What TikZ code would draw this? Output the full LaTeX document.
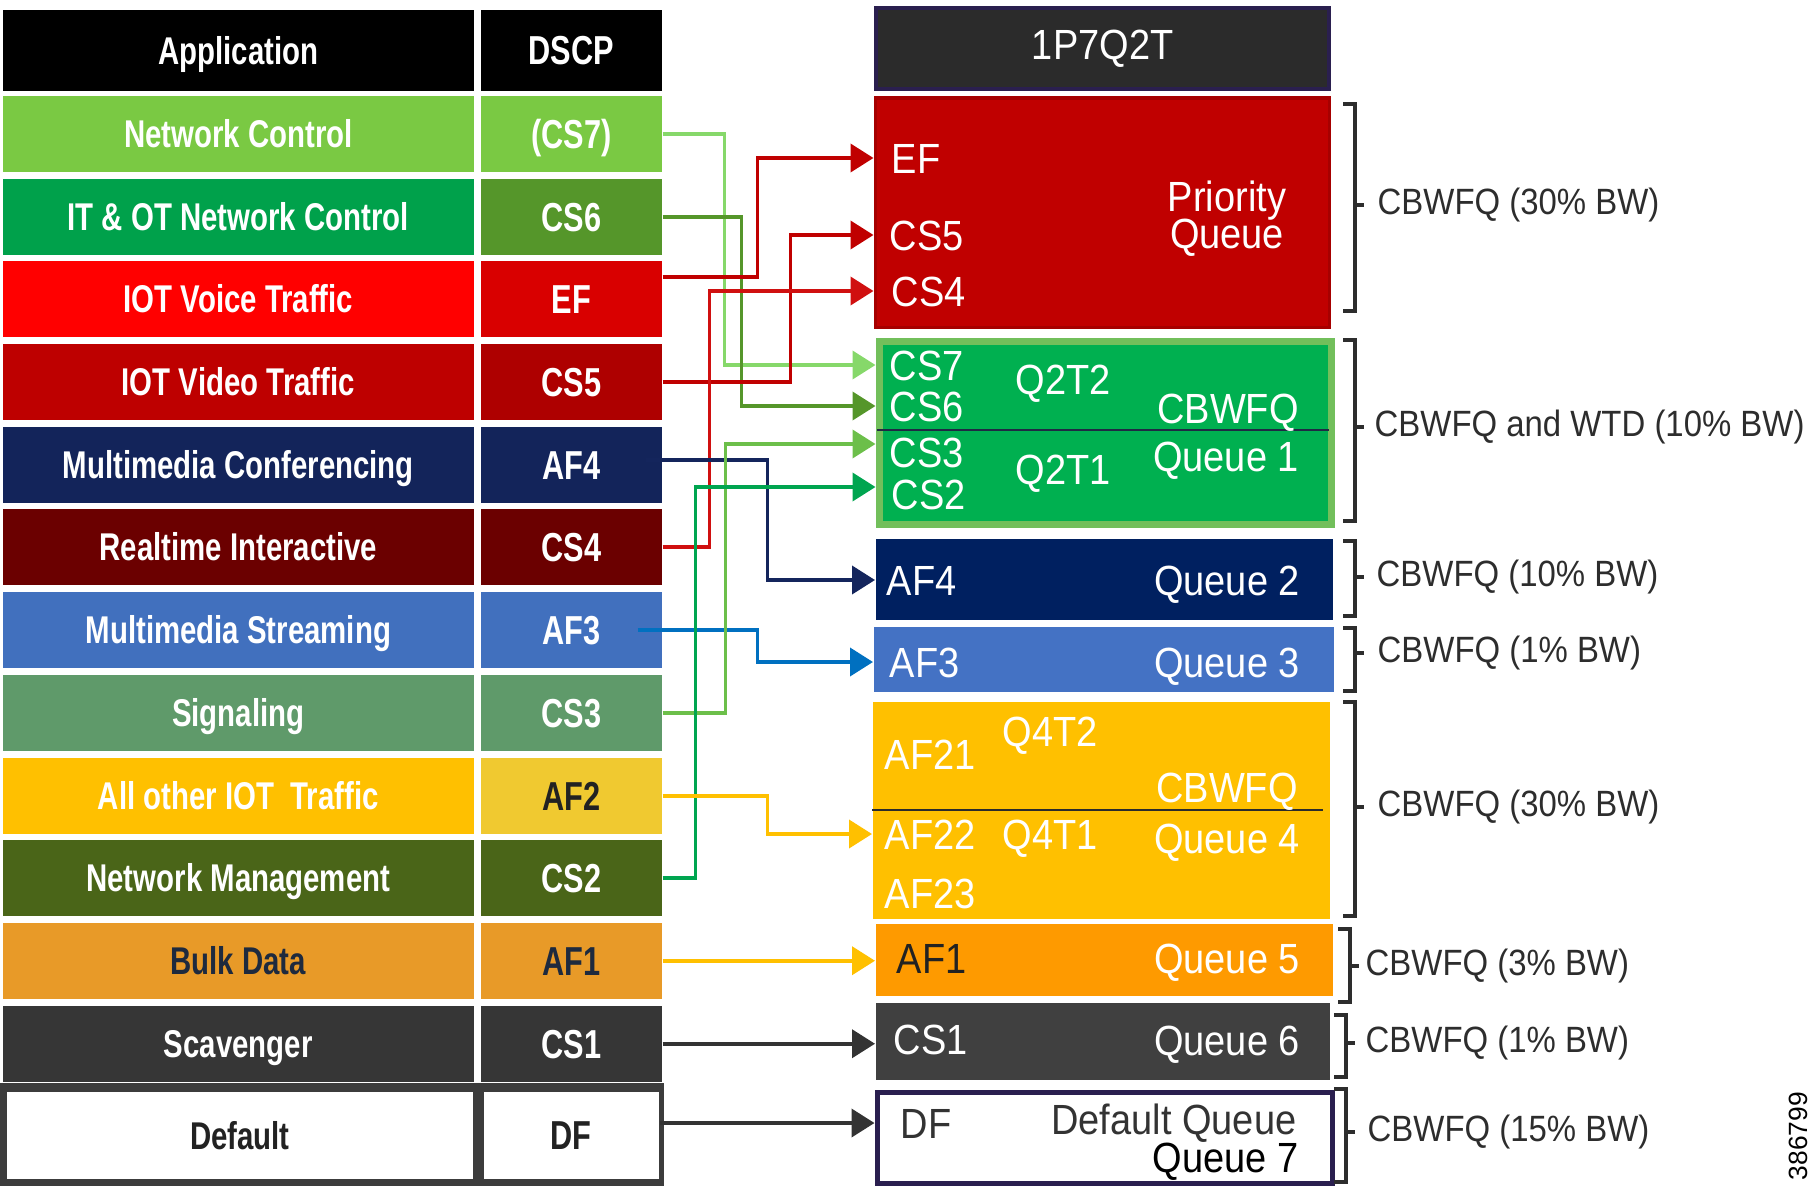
\documentclass[tikz,border=0pt]{standalone}
\usepackage{fontspec}
\setmainfont{Liberation Sans}
\newfontfamily\condfont{Liberation Sans}[FakeStretch=0.76]
\newfontfamily\qfont{Liberation Sans}[FakeStretch=0.9]
\usetikzlibrary{arrows.meta,calc}

\definecolor{ncgreen}{HTML}{7AC943}
\definecolor{itgreen}{HTML}{00A14B}
\definecolor{itolive}{HTML}{55962A}
\definecolor{voicered}{HTML}{FF0000}
\definecolor{efred}{HTML}{D90000}
\definecolor{videored}{HTML}{BE0000}
\definecolor{cs5red}{HTML}{AE0000}
\definecolor{confnavy}{HTML}{13245A}
\definecolor{rtmaroon}{HTML}{6B0000}
\definecolor{streamblue}{HTML}{4170BE}
\definecolor{siggreen}{HTML}{5F9A6A}
\definecolor{otheryellow}{HTML}{FFC000}
\definecolor{af2yellow}{HTML}{F0C930}
\definecolor{mgmtgreen}{HTML}{4A6518}
\definecolor{bulkorange}{HTML}{E89A28}
\definecolor{scavgray}{HTML}{363636}
\definecolor{framegray}{HTML}{3C3C3C}
\definecolor{darktext}{HTML}{222222}
\definecolor{bulktext}{HTML}{1E2A3E}
\definecolor{hdrgray}{HTML}{2B2B2B}
\definecolor{framenavy}{HTML}{2A1F4F}
\definecolor{pqred}{HTML}{C00000}
\definecolor{pqborder}{HTML}{A60000}
\definecolor{q1green}{HTML}{00B050}
\definecolor{q1border}{HTML}{72BF5B}
\definecolor{q2navy}{HTML}{002060}
\definecolor{q3blue}{HTML}{4472C4}
\definecolor{q4yellow}{HTML}{FFC000}
\definecolor{q5orange}{HTML}{FE9A00}
\definecolor{q6gray}{HTML}{404040}
\definecolor{divnavy}{HTML}{1F2A44}
\definecolor{bwgray}{HTML}{2D2D2D}
\definecolor{cs7line}{HTML}{86D86A}
\definecolor{cs6line}{HTML}{55962A}
\definecolor{efline}{HTML}{C00000}
\definecolor{cs4line}{HTML}{D01010}
\definecolor{af4line}{HTML}{14255C}
\definecolor{af3line}{HTML}{0070C0}
\definecolor{cs3line}{HTML}{6CBF4A}
\definecolor{cs2line}{HTML}{00A550}
\definecolor{af2line}{HTML}{FFC000}
\definecolor{darkline}{HTML}{333333}

\begin{document}
\begin{tikzpicture}[x=0.01cm,y=-0.01cm,
    appcell/.style={anchor=north west, inner sep=0pt, minimum width=4.71cm, minimum height=0.76cm, text=white, font=\condfont\bfseries\fontsize{11}{12}\selectfont, text height=7.9pt, text depth=0pt},
    dscpcell/.style={appcell, minimum width=1.81cm, font=\condfont\bfseries\fontsize{11.5}{12}\selectfont, text height=8.2pt},
    qbox/.style={anchor=north west, inner sep=0pt},
    qtext/.style={inner sep=0pt, text=white, font=\qfont\fontsize{12}{13}\selectfont, text height=8.6pt, text depth=0pt},
    bwtext/.style={anchor=west, inner sep=0pt, text=bwgray, font=\qfont\fontsize{10.4}{12}\selectfont},
    link/.style={line width=1.1pt, -{Triangle[length=0.23cm,width=0.28cm]}},
    brk/.style={line width=0.9pt, draw=bwgray}]
    \useasboundingbox (0,0) rectangle (1819,1191);

    % application / dscp table
    \node[appcell, fill=black, minimum height=0.81cm] (hApp) at (2,9) {Application};
    \node[dscpcell, fill=black, minimum height=0.81cm] (hDscp) at (480,9) {DSCP};
    \node[appcell, fill=ncgreen] (aNC) at (2,95) {Network Control};
    \node[dscpcell, fill=ncgreen] (dCS7) at (480,95) {(CS7)};
    \node[appcell, fill=itgreen] (aIT) at (2,178) {IT \& OT Network Control};
    \node[dscpcell, fill=itolive] (dCS6) at (480,178) {CS6};
    \node[appcell, fill=voicered] (aVoice) at (2,260) {IOT Voice Traffic};
    \node[dscpcell, fill=efred] (dEF) at (480,260) {EF};
    \node[appcell, fill=videored] (aVideo) at (2,343) {IOT Video Traffic};
    \node[dscpcell, fill=cs5red] (dCS5) at (480,343) {CS5};
    \node[appcell, fill=confnavy] (aConf) at (2,426) {Multimedia Conferencing};
    \node[dscpcell, fill=confnavy] (dAF4) at (480,426) {AF4};
    \node[appcell, fill=rtmaroon] (aRT) at (2,508) {Realtime Interactive};
    \node[dscpcell, fill=rtmaroon] (dCS4) at (480,508) {CS4};
    \node[appcell, fill=streamblue] (aStream) at (2,591) {Multimedia Streaming};
    \node[dscpcell, fill=streamblue] (dAF3) at (480,591) {AF3};
    \node[appcell, fill=siggreen] (aSig) at (2,674) {Signaling};
    \node[dscpcell, fill=siggreen] (dCS3) at (480,674) {CS3};
    \node[appcell, fill=otheryellow] (aOther) at (2,757) {All other IOT\ \ Traffic};
    \node[dscpcell, fill=af2yellow, text=darktext] (dAF2) at (480,757) {AF2};
    \node[appcell, fill=mgmtgreen] (aMgmt) at (2,839) {Network Management};
    \node[dscpcell, fill=mgmtgreen] (dCS2) at (480,839) {CS2};
    \node[appcell, fill=bulkorange, text=bulktext] (aBulk) at (2,922) {Bulk Data};
    \node[dscpcell, fill=bulkorange, text=bulktext] (dAF1) at (480,922) {AF1};
    \node[appcell, fill=scavgray] (aScav) at (2,1005) {Scavenger};
    \node[dscpcell, fill=scavgray] (dCS1) at (480,1005) {CS1};
    \fill[framegray] (0,1083) rectangle (664,1186);
    \node[appcell, fill=white, text=darktext, minimum width=4.66cm, minimum height=0.87cm] (aDefault) at (6,1091) {Default};
    \node[dscpcell, fill=white, text=darktext, minimum width=1.75cm, minimum height=0.87cm] (dDF) at (483,1091) {DF};

    % queues
    \node[qbox, fill=hdrgray, draw=framenavy, line width=0.04cm, minimum width=4.53cm, minimum height=0.81cm, text=white, font=\qfont\fontsize{12}{13}\selectfont] (hQueue) at (874,6) {1P7Q2T};
    \node[qbox, fill=pqred, draw=pqborder, line width=0.03cm, minimum width=4.54cm, minimum height=2.29cm] (pq) at (873.5,96.5) {};
    \node[qbox, fill=q1green, draw=q1border, line width=0.07cm, minimum width=4.52cm, minimum height=1.83cm] (q1) at (875.5,337.5) {};
    \draw[line width=0.02cm, divnavy] (877,430) -- (1329,430);
    \node[qbox, fill=q2navy, minimum width=4.57cm, minimum height=0.81cm] (q2) at (875,538) {};
    \node[qbox, fill=q3blue, minimum width=4.60cm, minimum height=0.65cm] (q3) at (873,626) {};
    \node[qbox, fill=q4yellow, minimum width=4.57cm, minimum height=2.17cm] (q4) at (872,701) {};
    \draw[line width=0.02cm, hdrgray] (872,810) -- (1323,810);
    \node[qbox, fill=q5orange, minimum width=4.57cm, minimum height=0.72cm] (q5) at (875,923) {};
    \node[qbox, fill=q6gray, minimum width=4.54cm, minimum height=0.77cm] (q6) at (875,1002) {};
    \node[qbox, fill=white, draw=framenavy, line width=0.05cm, minimum width=4.55cm, minimum height=0.91cm] (q7) at (874.5,1089.5) {};

    \node[qtext, anchor=west] (lEF) at (891,158) {EF};
    \node[qtext, anchor=west] (lCS5) at (889,235) {CS5};
    \node[qtext, anchor=west] (lCS4) at (891,291) {CS4};
    \node[qtext] (lPrio) at (1227,196) {Priority};
    \node[qtext] (lPQ) at (1227,233) {Queue};
    \node[qtext, anchor=west] (lCS7) at (889,365) {CS7};
    \node[qtext, anchor=west] (lCS6) at (889,406) {CS6};
    \node[qtext, anchor=west] (lCS3) at (889,452) {CS3};
    \node[qtext, anchor=west] (lCS2) at (891,494) {CS2};
    \node[qtext] (lQ2T2) at (1063,379) {Q2T2};
    \node[qtext] (lQ2T1) at (1063,469) {Q2T1};
    \node[qtext] (lCB1) at (1228,408) {CBWFQ};
    \node[qtext] (lQ1) at (1226,456) {Queue 1};
    \node[qtext, anchor=west] (lAF4) at (886,580) {AF4};
    \node[qtext] (lQ2) at (1227,580) {Queue 2};
    \node[qtext, anchor=west] (lAF3) at (889,662) {AF3};
    \node[qtext] (lQ3) at (1227,662) {Queue 3};
    \node[qtext, anchor=west] (lAF21) at (884,754) {AF21};
    \node[qtext] (lQ4T2) at (1050,731) {Q4T2};
    \node[qtext] (lCB4) at (1227,787) {CBWFQ};
    \node[qtext, anchor=west] (lAF22) at (884,834) {AF22};
    \node[qtext] (lQ4T1) at (1050,834) {Q4T1};
    \node[qtext] (lQ4) at (1227,838) {Queue 4};
    \node[qtext, anchor=west] (lAF23) at (884,893) {AF23};
    \node[qtext, anchor=west, text=darktext] (lAF1) at (896,958) {AF1};
    \node[qtext] (lQ5) at (1227,958) {Queue 5};
    \node[qtext, anchor=west] (lCS1) at (893,1039) {CS1};
    \node[qtext] (lQ6) at (1227,1040) {Queue 6};
    \node[qtext, anchor=west, text=darkline] (lDF) at (900,1123) {DF};
    \node[qtext, anchor=east, text=darkline] (lDefQ) at (1297,1119) {Default Queue};
    \node[qtext, anchor=east, text=black] (lQ7) at (1299,1157) {Queue 7};

    % dscp -> queue
    \draw[link, color=cs7line] (dCS7.east) -- ++(62,0) |- (q1.west |- lCS7);
    \draw[link, color=cs6line] (dCS6.east) -- ++(79,0) |- (q1.west |- lCS6);
    \draw[link, color=efline] ($(dEF.east)+(0,-22)$) -- ++(95,0) |- (pq.west |- lEF);
    \draw[link, color=efline] (dCS5.east) -- ++(128,0) |- (pq.west |- lCS5);
    \draw[link, color=cs4line] (dCS4.east) -- ++(47,0) |- (pq.west |- lCS4);
    \draw[link, color=af4line] ($(dAF4.east)+(-17,-5)$) -- ++(122,0) |- (q2.west |- lAF4);
    \draw[link, color=af3line] ($(dAF3.east)+(-25,0)$) -- ++(120,0) |- (q3.west |- lAF3);
    \draw[link, color=cs3line] (dCS3.east) -- ++(63,0) |- ($(q1.west |- lCS3)+(0,-8)$);
    \draw[link, color=cs2line] (dCS2.east) -- ++(33,0) |- ($(q1.west |- lCS2)+(0,-7)$);
    \draw[link, color=af2line] (dAF2.east) -- ++(105,0) |- (q4.west |- lAF22);
    \draw[link, color=af2line] (dAF1.east) -- (q5.west |- dAF1.east);
    \draw[link, color=darkline] (dCS1.east) -- (q6.west |- dCS1.east);
    \draw[link, color=darkline] (dDF.east |- lDF) -- (q7.west |- lDF);

    % bandwidth brackets
    \draw[brk] (1343,104) -| (1355,311) -- (1343,311) (1355,205) -- ++(9,0);
    \draw[brk] (1343,340) -| (1355,521) -- (1343,521) (1355,427) -- ++(9,0);
    \draw[brk] (1343,541) -| (1355,616) -- (1343,616) (1355,577) -- ++(9,0);
    \draw[brk] (1343,628) -| (1355,691) -- (1343,691) (1355,653) -- ++(9,0);
    \draw[brk] (1343,702) -| (1355,916) -- (1343,916) (1355,807) -- ++(9,0);
    \draw[brk] (1338,929) -| (1350,1002) -- (1338,1002) (1350,966) -- ++(9,0);
    \draw[brk] (1334,1015) -| (1346,1077) -- (1334,1077) (1346,1043) -- ++(9,0);
    \draw[brk] (1334,1089) -| (1346,1182) -- (1334,1182) (1346,1132) -- ++(9,0);
    \node[bwtext] (bwPQ) at (1377,205) {CBWFQ (30\% BW)};
    \node[bwtext] (bwQ1) at (1374,427) {CBWFQ and WTD (10\% BW)};
    \node[bwtext] (bwQ2) at (1376,577) {CBWFQ (10\% BW)};
    \node[bwtext] (bwQ3) at (1377,653) {CBWFQ (1\% BW)};
    \node[bwtext] (bwQ4) at (1377,807) {CBWFQ (30\% BW)};
    \node[bwtext] (bwQ5) at (1365,966) {CBWFQ (3\% BW)};
    \node[bwtext] (bwQ6) at (1365,1043) {CBWFQ (1\% BW)};
    \node[bwtext] (bwQ7) at (1367,1132) {CBWFQ (15\% BW)};

    \node[rotate=90, inner sep=0pt, font=\fontsize{7.5}{8}\selectfont] (figNo) at (1798,1136) {386799};
\end{tikzpicture}
\end{document}
